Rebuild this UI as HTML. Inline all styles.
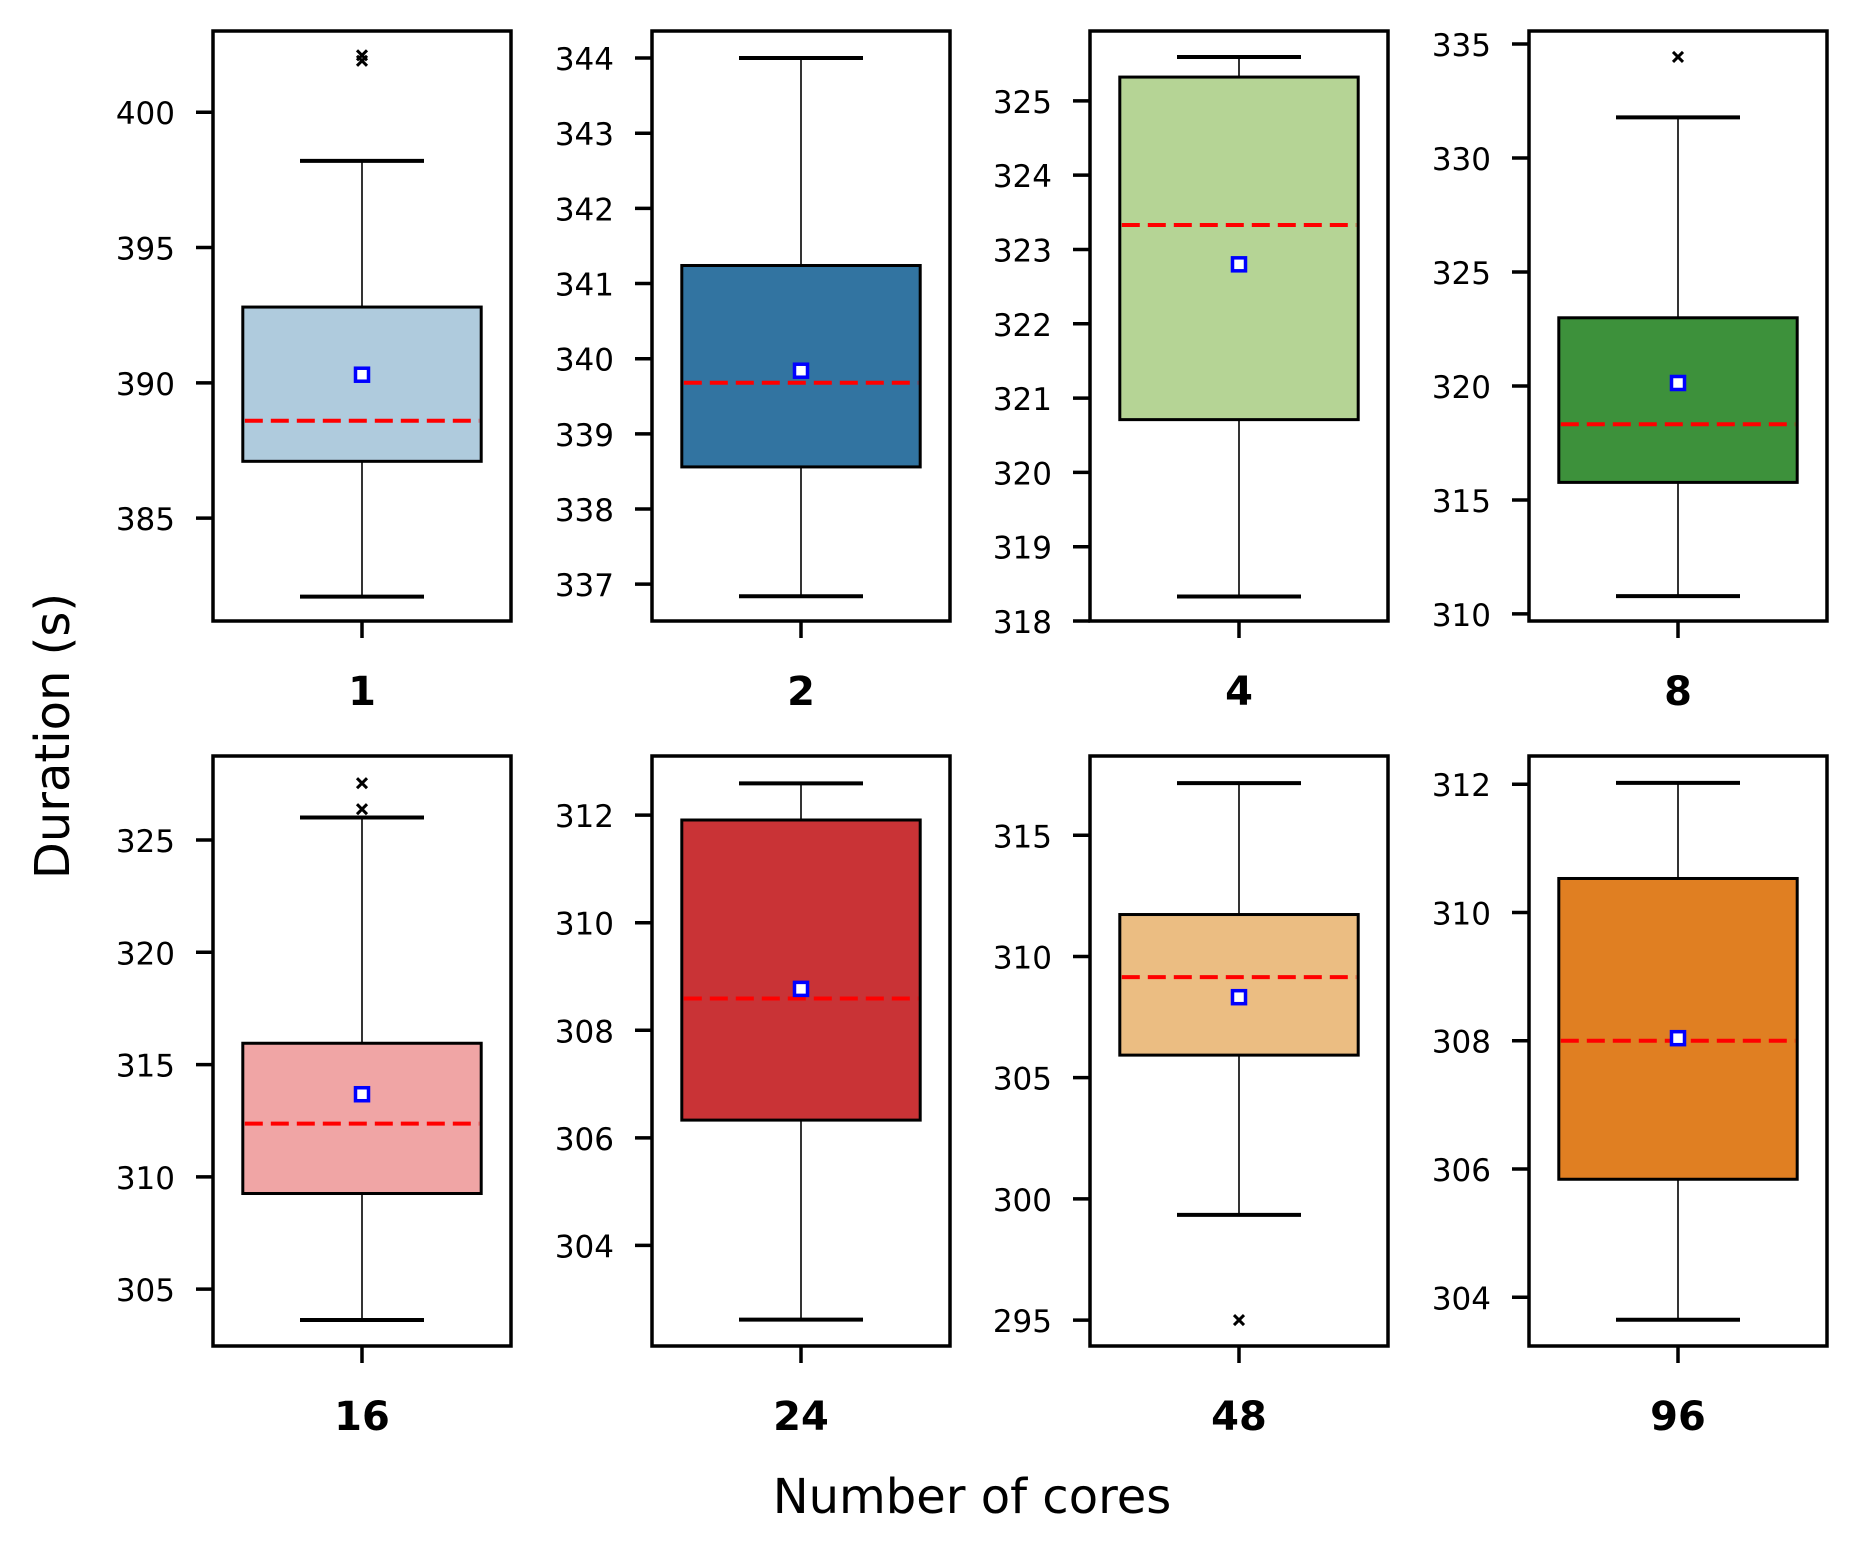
<!DOCTYPE html>
<html><head><meta charset="utf-8">
<style>
html,body{margin:0;padding:0;background:#fff;}
svg{display:block;font-family:"DejaVu Sans","Liberation Sans",sans-serif;}
</style></head>
<body>
<svg id="chart" width="1858" height="1552" viewBox="0 0 1858 1552" xmlns="http://www.w3.org/2000/svg">
<text x="0" y="0" transform="translate(69,736) rotate(-90)" text-anchor="middle" font-size="48">Duration (s)</text>
<text x="972" y="1513" text-anchor="middle" font-size="48">Number of cores</text>
</svg>
<script>
const categories = ["1","2","4","8","16","24","48","96"];
const colors = ["#afcbdd","#3274a1","#b5d495","#3d913b","#f0a5a5","#c93336","#ebbd82","#e07f22"];
const yMin = [381.2,336.51,318.0,309.69,302.47,302.13,293.93,303.24];
const yMax = [403.0,344.36,325.94,335.57,328.74,313.1,318.27,312.44];
const whiskerLow = [382.1,336.84,318.33,310.78,303.63,302.62,299.34,303.65];
const q1 = [387.1,338.56,320.71,315.77,309.26,306.33,305.93,305.84];
const medians = [388.6,339.68,323.33,318.32,312.37,308.59,309.15,308.0];
const means = [390.3,339.84,322.8,320.13,313.68,308.77,308.32,308.04];
const q3 = [392.8,341.24,325.32,322.99,315.95,311.91,311.73,310.53];
const whiskerHigh = [398.2,344.0,325.59,331.78,326.0,312.59,317.15,312.02];
const outliers = [[401.9,402.1],[],[],[334.43],[327.53,326.37],[],[295.0],[]];
const ticks = [[385,390,395,400],[337,338,339,340,341,342,343,344],[318,319,320,321,322,323,324,325],[310,315,320,325,330,335],[305,310,315,320,325],[304,306,308,310,312],[295,300,305,310,315],[304,306,308,310,312]];

const svg = document.getElementById('chart');
const NS = "http://www.w3.org/2000/svg";
const colX = [213,652,1090,1529], rowY = [31,756];
const W = 298, H = 590;
function mk(tag, attrs, parent){
  const e = document.createElementNS(NS, tag);
  for (const k in attrs) e.setAttribute(k, attrs[k]);
  parent.appendChild(e); return e;
}
categories.forEach((cat, i) => {
  const x0 = colX[i % 4], y0 = rowY[Math.floor(i / 4)];
  const g = mk('g', {}, svg);
  
  
  const ys = v => y0 + H - (v - yMin[i]) / (yMax[i] - yMin[i]) * H;
  const cx = x0 + W / 2;
  const bx = x0 + W * 0.1, bw = W * 0.8;
  const box = mk('rect', {x: bx, y: ys(q3[i]), width: bw, height: ys(q1[i]) - ys(q3[i]), fill: colors[i], stroke: '#000', 'stroke-width': 3}, g);
  
  
  const w1 = mk('line', {x1: cx, x2: cx, y1: ys(q3[i]), y2: ys(whiskerHigh[i]), stroke: '#000', 'stroke-width': 1.6}, g);
  
  
  const w2 = mk('line', {x1: cx, x2: cx, y1: ys(q1[i]), y2: ys(whiskerLow[i]), stroke: '#000', 'stroke-width': 1.6}, g);
  
  
  [whiskerHigh[i], whiskerLow[i]].forEach(v => {
    const c = mk('line', {x1: cx - 62, x2: cx + 62, y1: ys(v), y2: ys(v), stroke: '#000', 'stroke-width': 4}, g);
    
    
  });
  const m = mk('line', {x1: bx + 2, x2: bx + bw - 2, y1: ys(medians[i]), y2: ys(medians[i]), stroke: '#ff0000', 'stroke-width': 4, 'stroke-dasharray': '18 8'}, g);
  
  
  const mn = mk('rect', {x: cx - 6.5, y: ys(means[i]) - 6.5, width: 13, height: 13, fill: '#fff', stroke: '#0000ff', 'stroke-width': 3.5}, g);
  
  
  outliers[i].forEach(v => {
    const y = ys(v);
    const o = mk('path', {d: `M${cx-5},${y-5}L${cx+5},${y+5}M${cx-5},${y+5}L${cx+5},${y-5}`, stroke: '#000', 'stroke-width': 3}, g);
    
    
  });
  const fr = mk('rect', {x: x0, y: y0, width: W, height: H, fill: 'none', stroke: '#000', 'stroke-width': 3.5}, g);
  
  
  ticks[i].forEach(t => {
    const y = ys(t);
    const tl = mk('line', {x1: x0 - 17, x2: x0, y1: y, y2: y, stroke: '#000', 'stroke-width': 3.5}, g);
    
    
    const tx = mk('text', {x: x0 - 38, y: y + 12, 'text-anchor': 'end', 'font-size': 31}, g);
    tx.textContent = t;
    
    
  });
  const xt = mk('line', {x1: cx, x2: cx, y1: y0 + H, y2: y0 + H + 17, stroke: '#000', 'stroke-width': 3.5}, g);
  
  
  const xl = mk('text', {x: cx, y: y0 + H + 84, 'text-anchor': 'middle', 'font-size': 40, 'font-weight': 'bold'}, g);
  xl.textContent = cat;
  
  
});
</script>
</body></html>
